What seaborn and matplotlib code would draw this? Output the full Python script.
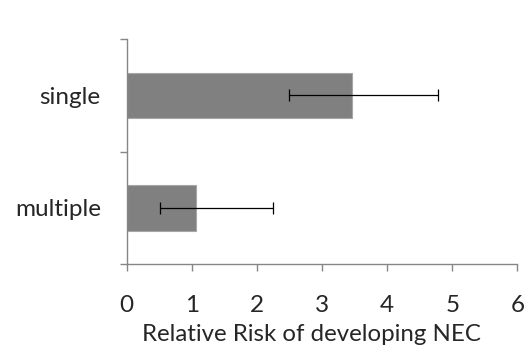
import matplotlib
matplotlib.use("Agg")
import matplotlib.pyplot as plt
import seaborn as sns
import pandas as pd
import numpy as np
from matplotlib.ticker import FixedLocator

categories = ["single", "multiple"]
relative_risk = [3.46, 1.07]
ci_low = [2.50, 0.51]
ci_high = [4.78, 2.25]

sns.set_style("white")
plt.rcParams['font.family'] = ['Lato', 'DejaVu Sans']

df = pd.DataFrame({"group": categories, "rr": relative_risk})

fig = plt.figure(figsize=(5.26, 3.62), dpi=100)
ax = fig.add_axes([0.241, 0.2707, 0.9835 - 0.241, 0.8914 - 0.2707])

sns.barplot(data=df, x="rr", y="group", orient="h", order=categories,
            color="#808080", saturation=1, width=0.404, errorbar=None,
            edgecolor="#a6a6a6", linewidth=0.8, ax=ax)

ypos = np.arange(len(categories))
mid = np.array(relative_risk)
xerr = np.vstack([mid - np.array(ci_low), np.array(ci_high) - mid])
ax.errorbar(x=mid, y=ypos, xerr=xerr, fmt="none", ecolor="black",
            elinewidth=0.9, capsize=4, capthick=0.9)

ax.set_xlim(0, 6)
ax.set_ylim(1.5, -0.5)
ax.set_xticks(range(0, 7))
ax.set_xticklabels([str(i) for i in range(0, 7)], fontsize=17.5)

ax.yaxis.set_major_locator(FixedLocator([-0.5, 0.5, 1.5]))
ax.set_yticklabels([])
ax.yaxis.set_minor_locator(FixedLocator(list(ypos)))
ax.set_yticklabels(categories, minor=True, fontsize=17.5)
ax.tick_params(axis="y", which="minor", length=0, pad=18.7)
ax.tick_params(axis="y", which="major", length=5, width=1, color="#868686", direction="out", left=True)
ax.tick_params(axis="x", which="major", length=5, width=1, color="#868686", direction="out", bottom=True, pad=17)

ax.set_xlabel("Relative Risk of developing NEC", fontsize=17.3, labelpad=6)
ax.xaxis.label.set_x(0.472)
ax.set_ylabel("")

for s in ["top", "right"]:
    ax.spines[s].set_visible(False)
for s in ["left", "bottom"]:
    ax.spines[s].set_color("#868686")
    ax.spines[s].set_linewidth(1)

fig.savefig("out.png", dpi=100)
